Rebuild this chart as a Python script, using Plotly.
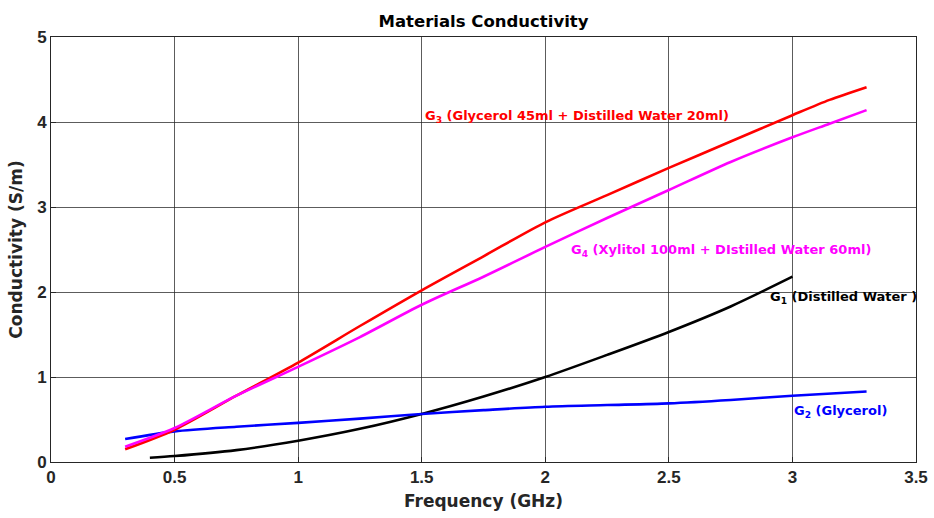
import plotly.graph_objects as go

# Frequency sweeps (GHz) and measured conductivity (S/m) for each material
freq_g1 = [0.4, 0.5, 0.75, 1.0, 1.25, 1.5, 1.75, 2.0, 2.25, 2.5, 2.75, 3.0]
cond_g1 = [0.05, 0.07, 0.14, 0.25, 0.39, 0.565, 0.77, 1.0, 1.26, 1.53, 1.83, 2.18]

freq_g2 = [0.3, 0.5, 0.75, 1.0, 1.25, 1.5, 1.75, 2.0, 2.25, 2.5, 2.75, 3.0, 3.3]
cond_g2 = [0.27, 0.36, 0.415, 0.46, 0.51, 0.565, 0.61, 0.65, 0.67, 0.69, 0.73, 0.78, 0.83]

freq_g3 = [0.3, 0.5, 0.75, 1.0, 1.25, 1.5, 1.75, 2.0, 2.25, 2.5, 2.75, 3.0, 3.15, 3.3]
cond_g3 = [0.15, 0.38, 0.78, 1.17, 1.6, 2.02, 2.42, 2.82, 3.14, 3.46, 3.77, 4.08, 4.26, 4.41]

freq_g4 = [0.3, 0.5, 0.75, 1.0, 1.25, 1.5, 1.75, 2.0, 2.25, 2.5, 2.75, 3.0, 3.15, 3.3]
cond_g4 = [0.18, 0.40, 0.78, 1.12, 1.47, 1.85, 2.18, 2.53, 2.87, 3.2, 3.53, 3.82, 3.98, 4.14]

x_ticks = [0, 0.5, 1, 1.5, 2, 2.5, 3, 3.5]
x_tick_text = ["0", "0.5", "1", "1.5", "2", "2.5", "3", "3.5"]
y_ticks = [0, 1, 2, 3, 4, 5]

series = [
    (freq_g1, cond_g1, "#000000", "G<sub>1</sub> (Distilled Water )", 2.9, 1.93),
    (freq_g2, cond_g2, "#0000FF", "G<sub>2</sub> (Glycerol)", 3.0, 0.59),
    (freq_g3, cond_g3, "#FF0000", "G<sub>3</sub> (Glycerol 45ml + Distilled Water 20ml)", 1.504, 4.06),
    (freq_g4, cond_g4, "#FF00FF", "G<sub>4</sub> (Xylitol 100ml + DIstilled Water 60ml)", 2.095, 2.49),
]

TICK_FONT = "Liberation Sans, Arial, sans-serif"
TEXT_FONT = "DejaVu Sans, Liberation Sans, sans-serif"

fig = go.Figure()
annotations = []
for fx, cy, color, label, lx, ly in series:
    fig.add_trace(go.Scatter(x=fx, y=cy, mode="lines",
                             line=dict(color=color, width=2.6, shape="spline", smoothing=0.8),
                             showlegend=False, hoverinfo="skip"))
    annotations.append(dict(x=lx, y=ly, xref="x", yref="y", text="<b>" + label + "</b>",
                            showarrow=False, xanchor="left", yanchor="middle",
                            font=dict(family=TEXT_FONT, size=13, color=color)))

axis_common = dict(
    showgrid=True, gridcolor="rgba(38,38,38,0.75)", gridwidth=1,
    showline=True, linecolor="#262626", linewidth=1, mirror=True,
    ticks="inside", ticklen=5, tickcolor="#262626",
    tickfont=dict(family=TICK_FONT, size=17, color="#262626", weight="bold"),
    zeroline=False, automargin=False,
)

fig.update_layout(
    width=934, height=518,
    margin=dict(l=51, r=18, t=37, b=56),
    paper_bgcolor="white", plot_bgcolor="white",
    title=dict(text="<b>Materials Conductivity</b>", x=0.5, xref="paper", xanchor="center",
               y=1 - 21 / 518, yanchor="middle",
               font=dict(family=TEXT_FONT, size=16.5, color="#000000")),
    xaxis=dict(range=[0, 3.5], tickvals=x_ticks, ticktext=x_tick_text,
               title=dict(text="<b>Frequency (GHz)</b>", standoff=8,
                          font=dict(family=TEXT_FONT, size=17, color="#262626")),
               **axis_common),
    yaxis=dict(range=[0, 5], tickvals=y_ticks,
               title=dict(text="<b>Conductivity (S/m)</b>", standoff=10,
                          font=dict(family=TEXT_FONT, size=17, color="#262626")),
               **axis_common),
    annotations=annotations,
)

fig.write_html("out.html")
